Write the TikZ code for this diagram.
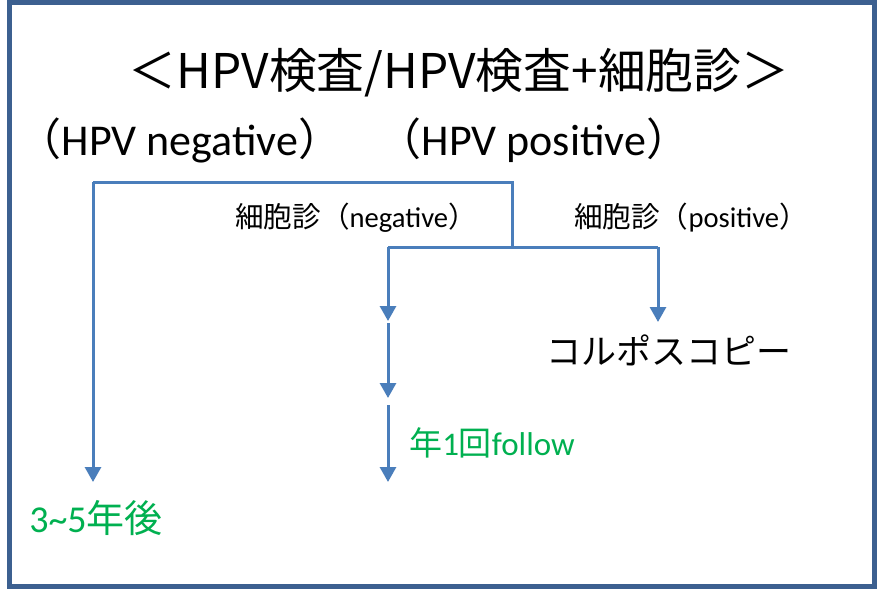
\documentclass[tikz,border=0pt]{standalone}
\usepackage{fontspec}
\setmainfont{Carlito}
\newfontfamily\cjk{Noto Sans CJK JP}
\usetikzlibrary{arrows.meta}
\definecolor{frameblue}{HTML}{3C6090}
\definecolor{lineblue}{HTML}{4A7EBB}
\definecolor{textgreen}{HTML}{00B050}
\tikzset{
  conn/.style={draw=lineblue, line width=3pt},
  arr/.style={conn, -{Triangle[width=16pt,length=15pt]}},
  lbl/.style={inner sep=0pt, anchor=center},
}
\begin{document}
\begin{tikzpicture}[x=1pt,y=-1pt]
\useasboundingbox (0,0) rectangle (877,589);
\fill[white] (0,0) rectangle (877,589);
\draw[frameblue, line width=5pt] (9.8,2.2) rectangle (874,586.5);

\node[lbl] (title) at (459,73) {\fontsize{47.8}{52}\selectfont\cjk ＜HPV検査/HPV検査+細胞診＞};
\node[lbl] (hneg) at (180,140) {\fontsize{44}{48}\selectfont{\cjk （}HPV negative{\cjk ）}};
\node[lbl] (hpos) at (534,140) {\fontsize{44}{48}\selectfont{\cjk （}HPV positive{\cjk ）}};
\node[lbl] (cneg) at (356,218) {\fontsize{28.6}{32}\selectfont{\cjk 細胞診（}negative{\cjk ）}};
\node[lbl] (cpos) at (691,218) {\fontsize{28.6}{32}\selectfont{\cjk 細胞診（}positive{\cjk ）}};
\node[lbl] (colpo) at (669,350) {\fontsize{35}{40}\selectfont\cjk コルポスコピー};
\node[lbl, textgreen] (follow) at (492,443) {\fontsize{33}{36}\selectfont{\cjk 年}1{\cjk 回}follow};
\node[lbl, textgreen] (y35) at (96,518) {\fontsize{38}{42}\selectfont 3\textasciitilde5{\cjk 年後}};

\coordinate (j1) at (93,182);
\coordinate (j2) at (512,182);
\coordinate (j3) at (512,247);
\coordinate (j4) at (388,247);
\coordinate (j5) at (658,247);
\coordinate (a1) at (93,482);
\coordinate (a2) at (658,322);
\coordinate (b1) at (388,321);
\coordinate (b2s) at (388,323);
\coordinate (b2) at (388,398);
\coordinate (b3s) at (388,405);
\coordinate (b3) at (388,482);

\draw[conn] (j1) -- (j2) -- (j3);
\draw[arr] (j1) -- (a1);
\draw[conn] (j4) -- (j5);
\draw[arr] (j5) -- (a2);
\draw[arr] (j4) -- (b1);
\draw[arr] (b2s) -- (b2);
\draw[arr] (b3s) -- (b3);
\end{tikzpicture}
\end{document}
